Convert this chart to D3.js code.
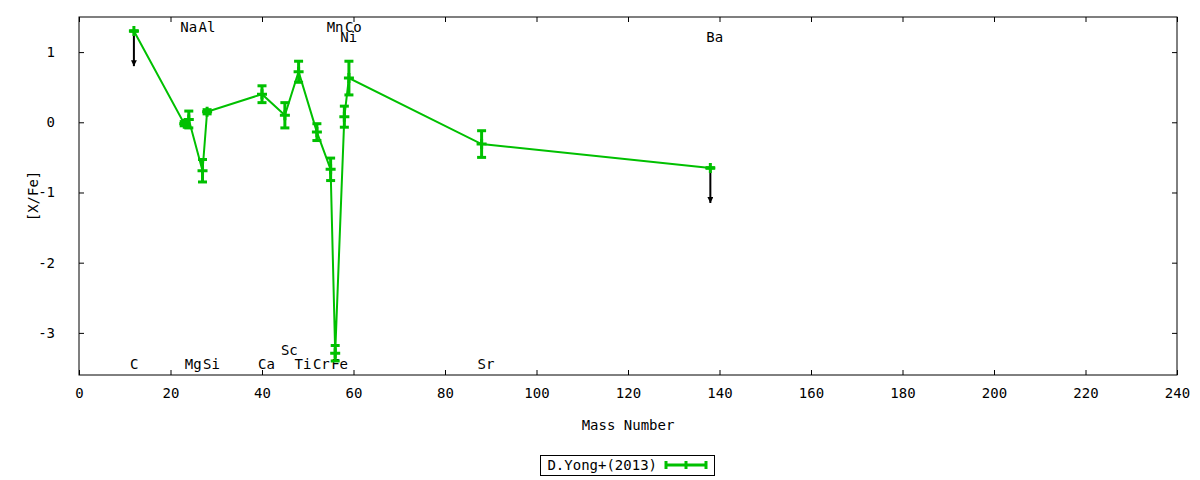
<!DOCTYPE html>
<html>
<head>
<meta charset="utf-8">
<script src="https://cdn.jsdelivr.net/npm/d3@7"></script>
<style>
  body { margin: 0; background: #fff; }
  text { font-family: "DejaVu Sans Mono", monospace; font-size: 14px; fill: #000; }
</style>
</head>
<body>
<div id="chart"></div>
<script>
// Element abundances vs mass number
const elements    = ["C", "Na", "Mg", "Al", "Si", "Ca", "Sc", "Ti", "Cr", "Mn", "Fe", "Ni", "Co", "Sr", "Ba"];
const massNumbers = [12, 23, 24, 27, 28, 40, 45, 48, 52, 55, 56, 58, 59, 88, 138];
const xfeValues   = [1.30, -0.02, 0.04, -0.69, 0.15, 0.40, 0.10, 0.72, -0.14, -0.67, -3.29, 0.08, 0.63, -0.31, -0.65];
const xfeErrors   = [0, 0.03, 0.12, 0.16, 0.03, 0.12, 0.18, 0.15, 0.12, 0.16, 0.11, 0.15, 0.24, 0.19, 0];
const upperLimits = ["C", "Ba"];

// element name labels: name, x (mass), y ([X/Fe])
const labelNames = ["Na", "Al", "Mn", "Co", "Ni", "Ba", "C", "Mg", "Si", "Ca", "Sc", "Ti", "Cr", "Fe", "Sr"];
const labelX     = [23, 27, 55, 59, 58, 138, 12, 24, 28, 40, 45, 48, 52, 56, 88];
const labelY     = [1.35, 1.35, 1.35, 1.35, 1.21, 1.21, -3.44, -3.44, -3.44, -3.44, -3.24, -3.44, -3.44, -3.44, -3.44];

const xTicks = [0, 20, 40, 60, 80, 100, 120, 140, 160, 180, 200, 220, 240];
const yTicks = [-3, -2, -1, 0, 1];
const seriesName = "D.Yong+(2013)";

var width = 1200, height = 480;
var mLeft = 79, mRight = 1177, mTop = 17, mBottom = 375;
var green = "#00c000";

var svg = d3.select("#chart").append("svg").attr("width", width).attr("height", height);

var x = d3.scaleLinear().domain([0, 240]).range([mLeft, mRight]);
var y = d3.scaleLinear().domain([-3.6, 1.5]).range([mBottom, mTop]);

// axes with inward ticks, mirrored
var tick = 5;
svg.append("g").attr("transform", "translate(0," + mBottom + ")")
  .call(d3.axisBottom(x).tickValues(xTicks).tickSizeInner(-tick).tickSizeOuter(0).tickPadding(13).tickFormat(d => String(d)))
  .call(g => g.select(".domain").remove());
svg.append("g").attr("transform", "translate(0," + mTop + ")")
  .call(d3.axisTop(x).tickValues(xTicks).tickSizeInner(-tick).tickSizeOuter(0).tickFormat(""))
  .call(g => g.select(".domain").remove());
svg.append("g").attr("transform", "translate(" + mLeft + ",0)")
  .call(d3.axisLeft(y).tickValues(yTicks).tickSizeInner(-tick).tickSizeOuter(0).tickPadding(24).tickFormat(d => String(d)))
  .call(g => g.select(".domain").remove());
svg.append("g").attr("transform", "translate(" + mRight + ",0)")
  .call(d3.axisRight(y).tickValues(yTicks).tickSizeInner(-tick).tickSizeOuter(0).tickFormat(""))
  .call(g => g.select(".domain").remove());
svg.selectAll(".tick text").attr("font-family", null).attr("font-size", null).attr("fill", null);
svg.selectAll(".tick line").attr("stroke", "#000");

svg.append("rect").attr("x", mLeft).attr("y", mTop)
  .attr("width", mRight - mLeft).attr("height", mBottom - mTop)
  .attr("fill", "none").attr("stroke", "#000").attr("stroke-width", 1);

// axis titles
svg.append("text").attr("x", (mLeft + mRight) / 2).attr("y", 430)
  .attr("text-anchor", "middle").text("Mass Number");
svg.append("text").attr("transform", "translate(33," + ((mTop + mBottom) / 2) + ") rotate(-90)")
  .attr("text-anchor", "middle").attr("dy", "0.35em").text("[X/Fe]");

// element labels
svg.selectAll(".elabel").data(labelNames).enter().append("text")
  .attr("class", "elabel")
  .attr("x", (d, i) => x(labelX[i]) - 4)
  .attr("y", (d, i) => y(labelY[i]))
  .attr("dy", "0.35em")
  .text(d => d);

var pts = elements.map((e, i) => ({ el: e, m: massNumbers[i], v: xfeValues[i], err: xfeErrors[i] }));

// upper limit arrows
var defs = svg.append("defs");
defs.append("marker").attr("id", "head")
  .attr("viewBox", "0 0 10 10").attr("refX", 10).attr("refY", 5)
  .attr("markerWidth", 7).attr("markerHeight", 6).attr("markerUnits", "userSpaceOnUse")
  .attr("orient", "auto")
  .append("path").attr("d", "M0,0 L10,5 L0,10 z").attr("fill", "#000");

svg.selectAll(".arrow").data(pts.filter(d => upperLimits.includes(d.el))).enter().append("line")
  .attr("x1", d => x(d.m)).attr("x2", d => x(d.m))
  .attr("y1", d => y(d.v)).attr("y2", d => y(d.v - 0.5))
  .attr("stroke", "#000").attr("stroke-width", 2)
  .attr("marker-end", "url(#head)");

// connecting line
svg.append("path").datum(pts)
  .attr("d", d3.line().x(d => x(d.m)).y(d => y(d.v)))
  .attr("fill", "none").attr("stroke", green).attr("stroke-width", 2);

// error bars
var eb = svg.selectAll(".eb").data(pts).enter().append("g").attr("class", "eb");
eb.append("line")
  .attr("x1", d => x(d.m)).attr("x2", d => x(d.m))
  .attr("y1", d => y(d.v - d.err)).attr("y2", d => y(d.v + d.err))
  .attr("stroke", green).attr("stroke-width", 3);
eb.append("line")
  .attr("x1", d => x(d.m) - 4.5).attr("x2", d => x(d.m) + 4.5)
  .attr("y1", d => y(d.v + d.err)).attr("y2", d => y(d.v + d.err))
  .attr("stroke", green).attr("stroke-width", 3);
eb.append("line")
  .attr("x1", d => x(d.m) - 4.5).attr("x2", d => x(d.m) + 4.5)
  .attr("y1", d => y(d.v - d.err)).attr("y2", d => y(d.v - d.err))
  .attr("stroke", green).attr("stroke-width", 3);
// point markers "+"
eb.append("path")
  .attr("d", d => "M" + (x(d.m) - 5) + "," + y(d.v) + "h10M" + x(d.m) + "," + (y(d.v) - 5) + "v10")
  .attr("stroke", green).attr("stroke-width", 3);

// legend
var lg = svg.append("g");
lg.append("rect").attr("x", 540.5).attr("y", 455.5).attr("width", 174).attr("height", 20)
  .attr("fill", "none").attr("stroke", "#000");
lg.append("text").attr("x", 657).attr("y", 465.5).attr("dy", "0.35em")
  .attr("text-anchor", "end").text(seriesName);
lg.append("line").attr("x1", 666).attr("x2", 706).attr("y1", 465).attr("y2", 465)
  .attr("stroke", green).attr("stroke-width", 3);
[666, 686, 706].forEach(function (cx) {
  lg.append("line").attr("x1", cx).attr("x2", cx).attr("y1", 461).attr("y2", 469)
    .attr("stroke", green).attr("stroke-width", 3);
});
</script>
</body>
</html>
